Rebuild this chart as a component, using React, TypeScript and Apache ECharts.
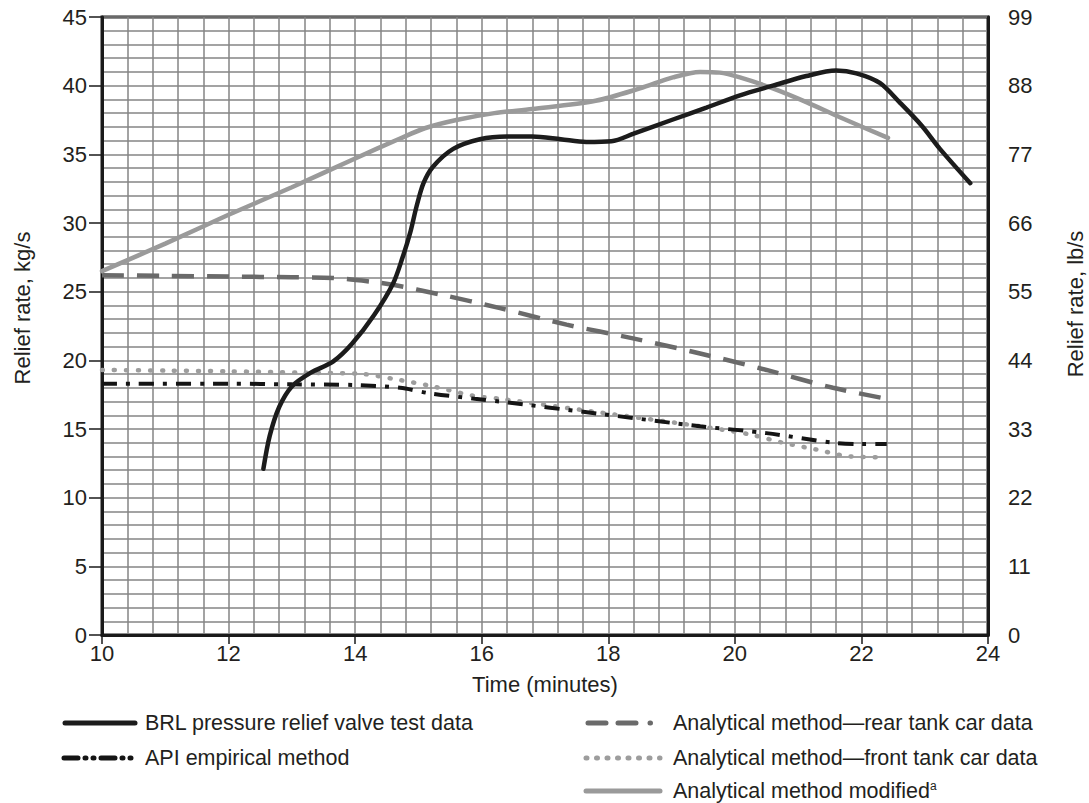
import React, { useEffect, useRef } from "react";
import * as echarts from "echarts";

// ---- Data (time in minutes, relief rate in kg/s) ----
const brlData: [number, number][] = [
  [12.55, 12.1], [12.65, 14.5], [12.8, 16.6], [13.0, 18.1], [13.3, 19.1], [13.65, 19.9],
  [13.95, 21.2], [14.3, 23.3], [14.6, 25.6], [14.75, 27.5], [14.87, 29.3], [14.97, 31.2],
  [15.08, 32.9], [15.23, 34.1], [15.55, 35.4], [15.97, 36.1], [16.4, 36.3], [16.8, 36.3],
  [17.25, 36.1], [17.65, 35.9], [18.05, 35.95], [18.4, 36.5], [19.0, 37.5], [19.55, 38.4],
  [20.08, 39.3], [20.6, 40.0], [21.13, 40.7], [21.6, 41.1], [21.92, 40.9], [22.29, 40.2],
  [22.6, 38.8], [22.95, 37.1], [23.24, 35.4], [23.72, 32.9],
];

const apiData: [number, number][] = [
  [10, 18.3], [12, 18.3], [13, 18.25], [14, 18.2], [14.71, 18.0], [15.18, 17.6],
  [15.89, 17.2], [16.29, 17.0], [17.87, 16.1], [19.45, 15.2], [20.5, 14.7],
  [21.55, 14.0], [22.0, 13.9], [22.4, 13.9],
];

const rearData: [number, number][] = [
  [10, 26.2], [11, 26.15], [12, 26.1], [13, 26.05], [13.65, 26.0], [14.3, 25.7],
  [14.6, 25.5], [15.34, 24.8], [16.29, 23.8], [17.34, 22.6], [18.39, 21.6],
  [19.45, 20.5], [20.5, 19.3], [21.55, 18.0], [22.4, 17.2],
];

const frontData: [number, number][] = [
  [10, 19.3], [11, 19.25], [12, 19.2], [13.13, 19.1], [14.13, 19.0], [14.66, 18.6],
  [15.18, 18.15], [15.89, 17.4], [16.29, 17.2], [17.87, 16.2], [19.45, 15.2],
  [20.24, 14.6], [20.76, 14.0], [21.29, 13.5], [21.82, 13.0], [22.3, 12.95],
];

const modifiedData: [number, number][] = [
  [10, 26.5], [11, 28.5], [12, 30.6], [13, 32.6], [14, 34.7], [14.71, 36.15],
  [15.1, 36.9], [15.6, 37.5], [16.2, 38.0], [16.8, 38.3], [17.8, 38.9], [18.5, 39.8],
  [19.02, 40.6], [19.45, 41.0], [19.76, 40.95], [20.08, 40.6], [20.6, 39.8],
  [21.13, 38.8], [21.66, 37.7], [22.42, 36.2],
];

const seriesNames = [
  "BRL pressure relief valve test data",
  "API empirical method",
  "Analytical method\u2014rear tank car data",
  "Analytical method\u2014front tank car data",
  "Analytical method modified",
];

const xTitle = "Time (minutes)";
const yLeftTitle = "Relief rate, kg/s";
const yRightTitle = "Relief rate, lb/s";

const FONT = "'Liberation Sans', Arial, sans-serif";
const TXT = "#231f20";
const GRIDC = "#858585";

const C_BRL = "#1c1c1c";
const C_API = "#141414";
const C_REAR = "#6a6a6a";
const C_FRONT = "#9d9d9d";
const C_MOD = "#9a9a9a";

export default function App() {
  const ref = useRef<HTMLDivElement>(null);

  useEffect(() => {
    if (!ref.current) return;
    const chart = echarts.init(ref.current, null, { renderer: "svg" });

    const gridLine = { show: true, lineStyle: { color: GRIDC, width: 1.5 } };
    const legendFont = `21.5px ${FONT}`;

    const legendLine = (x1: number, x2: number, y: number, stroke: string, w: number, dash: any, cap: string) => ({
      type: "line",
      shape: { x1, y1: y, x2, y2: y },
      style: { stroke, lineWidth: w, lineDash: dash, lineCap: cap },
      silent: true,
    });
    const legendText = (x: number, y: number, text: string, extra: any = {}) => ({
      type: "text",
      x,
      y,
      silent: true,
      style: { text, font: legendFont, fill: TXT, align: "left", verticalAlign: "middle", ...extra },
    });

    const rows = [723, 758, 791];

    const option: any = {
      animation: false,
      backgroundColor: "#ffffff",
      textStyle: { fontFamily: FONT, color: TXT },
      grid: {
        left: 102,
        right: 101,
        top: 17,
        bottom: 168,
        show: true,
        borderColor: "#1a1a1a",
        borderWidth: 3,
        backgroundColor: "transparent",
      },
      xAxis: {
        type: "value",
        min: 10,
        max: 24,
        interval: 2,
        name: xTitle,
        nameLocation: "middle",
        nameGap: 38,
        nameTextStyle: { fontSize: 22, color: TXT, fontFamily: FONT },
        axisLine: { show: true, onZero: false, lineStyle: { color: "#1a1a1a", width: 3 } },
        axisTick: { show: true, inside: false, length: 9, lineStyle: { color: "#1a1a1a", width: 1.5 } },
        axisLabel: { fontSize: 22, color: TXT, fontFamily: FONT, margin: 7 },
        splitLine: gridLine,
        minorTick: { show: false, splitNumber: 5 },
        minorSplitLine: gridLine,
      },
      yAxis: [
        {
          type: "value",
          min: 0,
          max: 45,
          interval: 5,
          position: "left",
          axisLine: { show: true, onZero: false, lineStyle: { color: "#1a1a1a", width: 3 } },
          axisTick: { show: true, inside: false, length: 13, lineStyle: { color: "#1a1a1a", width: 1.5 } },
          axisLabel: { fontSize: 22, color: TXT, fontFamily: FONT, margin: 15 },
          splitLine: gridLine,
          minorTick: { show: false, splitNumber: 5 },
          minorSplitLine: gridLine,
        },
        {
          type: "value",
          min: 0,
          max: 99,
          interval: 11,
          position: "right",
          axisLine: { show: true, onZero: false, lineStyle: { color: "#1a1a1a", width: 3 } },
          axisTick: { show: false },
          axisLabel: { fontSize: 22, color: TXT, fontFamily: FONT, margin: 20 },
          splitLine: { show: false },
        },
      ],
      graphic: [
        {
          type: "text",
          x: 22,
          y: 308,
          rotation: Math.PI / 2,
          style: { text: yLeftTitle, font: `22px ${FONT}`, fill: TXT, align: "center", verticalAlign: "middle" },
        },
        {
          type: "text",
          x: 1075,
          y: 304,
          rotation: Math.PI / 2,
          style: { text: yRightTitle, font: `22px ${FONT}`, fill: TXT, align: "center", verticalAlign: "middle" },
        },
        // legend, left column
        legendLine(65, 135, rows[0], C_BRL, 5, null, "round"),
        legendText(145, rows[0], seriesNames[0]),
        legendLine(64, 136, rows[1], C_API, 5, [14, 7, 1, 7, 1, 7], "round"),
        legendText(145, rows[1], seriesNames[1]),
        // legend, right column
        legendLine(588, 660, rows[0], C_REAR, 5, [18, 12, 18, 14, 0.5, 30], "round"),
        legendText(673, rows[0], seriesNames[2]),
        legendLine(586, 660, rows[1], C_FRONT, 5, [1, 9.5], "round"),
        legendText(673, rows[1], seriesNames[3]),
        legendLine(586, 660, rows[2], C_MOD, 5, null, "round"),
        legendText(673, rows[2], seriesNames[4] + "{sup|a}", {
          rich: {
            sup: { fontSize: 12, fontFamily: FONT, fill: TXT, verticalAlign: "top", lineHeight: 22 },
          },
        }),
      ],
      series: [
        {
          name: seriesNames[2],
          type: "line",
          data: rearData,
          smooth: 0.3,
          symbol: "none",
          z: 3,
          lineStyle: { color: C_REAR, width: 4.5, type: [22, 13], cap: "butt" },
        },
        {
          name: seriesNames[3],
          type: "line",
          data: frontData,
          smooth: 0.3,
          symbol: "none",
          z: 3,
          lineStyle: { color: C_FRONT, width: 4.5, type: [1, 11], cap: "round" },
        },
        {
          name: seriesNames[1],
          type: "line",
          data: apiData,
          smooth: 0.3,
          symbol: "none",
          z: 4,
          lineStyle: { color: C_API, width: 4, type: [15, 9, 4, 9], cap: "butt" },
        },
        {
          name: seriesNames[4],
          type: "line",
          data: modifiedData,
          smooth: 0.3,
          symbol: "none",
          z: 4,
          lineStyle: { color: C_MOD, width: 4.5, type: "solid", cap: "round" },
        },
        {
          name: seriesNames[0],
          type: "line",
          data: brlData,
          smooth: 0.3,
          symbol: "none",
          z: 5,
          lineStyle: { color: C_BRL, width: 4.5, type: "solid", cap: "round" },
        },
      ],
    };

    chart.setOption(option);
    return () => chart.dispose();
  }, []);

  return (
    <div
      ref={ref}
      style={{ position: "fixed", left: 0, top: 0, width: 1089, height: 803, background: "#fff" }}
    />
  );
}
